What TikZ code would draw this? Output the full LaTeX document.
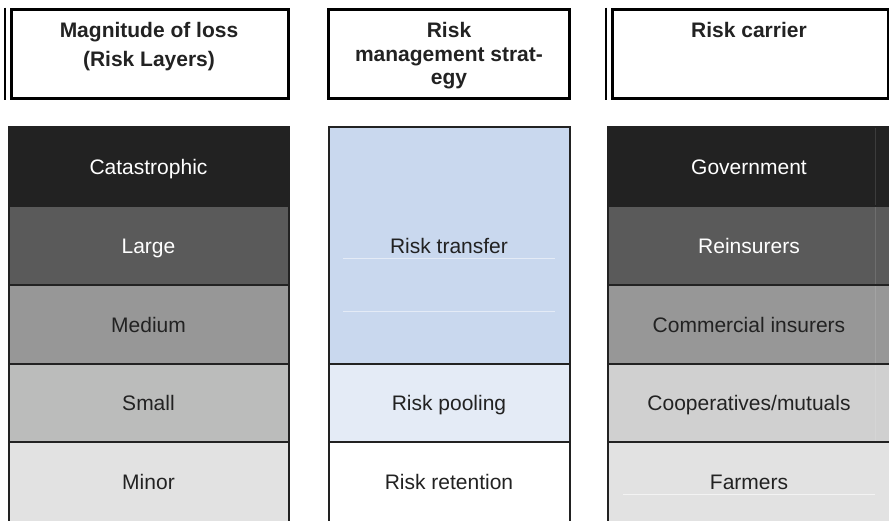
\documentclass[tikz,border=0pt]{standalone}
\usepackage{fontspec}
\setmainfont{Liberation Sans}
\definecolor{cCat}{HTML}{222222}
\definecolor{cLarge}{HTML}{5A5A5A}
\definecolor{cMed}{HTML}{979797}
\definecolor{cSmall}{HTML}{BBBCBB}
\definecolor{cSmallB}{HTML}{D0D0D0}
\definecolor{cMinor}{HTML}{E2E2E2}
\definecolor{cTrans}{HTML}{C9D8EE}
\definecolor{cPool}{HTML}{E4EBF6}
\definecolor{cTxt}{HTML}{222222}
\tikzset{
  cell/.style={inner sep=0pt, outer sep=0pt, text height=15pt, text depth=0pt,
               font=\fontsize{21}{25}\selectfont, text=cTxt},
  darkcell/.style={cell, text=white},
  hdrtxt/.style={inner sep=0pt, anchor=base, font=\bfseries\fontsize{21}{25}\selectfont, text=cTxt},
  hdrbox/.style={draw=black, line width=3pt, inner sep=0pt},
  border/.style={draw=cCat, line width=2pt},
  faint/.style={line width=0.6pt}
}
\begin{document}
\begin{tikzpicture}[x=1pt,y=-1pt]
\useasboundingbox (0,0) rectangle (889,520);
\begin{scope}
\clip (0,0) rectangle (889,520);
% ---------- headers ----------
\node[hdrbox, minimum width=277, minimum height=89] (h1) at (149.5,53.5) {};
\draw[line width=1.2pt] ([xshift=-4.5pt]h1.north west) -- ([xshift=-4.5pt]h1.south west);
\node[hdrtxt] (h1a) at (149,37) {Magnitude of loss};
\node[hdrtxt] (h1b) at (149,66) {(Risk Layers)};

\node[hdrbox, minimum width=241, minimum height=89] (h2) at (449,53.5) {};
\node[hdrtxt] (h2a) at (449,37) {Risk};
\node[hdrtxt] (h2b) at (449,61) {management strat-};
\node[hdrtxt] (h2c) at (449,84) {egy};

\node[hdrbox, minimum width=276, minimum height=89] (h3) at (750,53.5) {};
\draw[line width=1.2pt] ([xshift=-4.5pt]h3.north west) -- ([xshift=-4.5pt]h3.south west);
\node[hdrtxt] (h3a) at (749,37) {Risk carrier};

% ---------- column 1 ----------
\node[darkcell, fill=cCat,   minimum width=280, minimum height=79] (c1) at (148.5,166.5) {Catastrophic};
\node[darkcell, fill=cLarge, minimum width=280, minimum height=79] (c2) at (148.5,245.5) {Large};
\node[cell, fill=cMed,   minimum width=280, minimum height=79] (c3) at (148.5,324.5) {Medium};
\node[cell, fill=cSmall, minimum width=280, minimum height=78] (c4) at (148.5,403) {Small};
\node[cell, fill=cMinor, minimum width=280, minimum height=79] (c5) at (148.5,481.5) {Minor};
\draw[border] (c5.south west) -- (c1.north west) -- (c1.north east) -- (c5.south east);
\draw[border] (c1.south west) -- (c1.south east);
\draw[border] (c2.south west) -- (c2.south east);
\draw[border] (c3.south west) -- (c3.south east);
\draw[border] (c4.south west) -- (c4.south east);

% ---------- column 2 ----------
\node[cell, fill=cTrans, minimum width=241, minimum height=237] (s1) at (449,245.5) {Risk transfer};
\node[cell, fill=cPool,  minimum width=241, minimum height=78] (s2) at (449,403) {Risk pooling};
\node[cell, fill=white,  minimum width=241, minimum height=79] (s3) at (449,481.5) {Risk retention};
\coordinate (f1a) at (343,258); \coordinate (f1b) at (555,258);
\coordinate (f2a) at (343,311); \coordinate (f2b) at (555,311);
\draw[faint, draw=cPool] (f1a) -- (f1b);
\draw[faint, draw=cPool] (f2a) -- (f2b);
\draw[border] (s3.south west) -- (s1.north west) -- (s1.north east) -- (s3.south east);
\draw[border] (s1.south west) -- (s1.south east);
\draw[border] (s2.south west) -- (s2.south east);

% ---------- column 3 ----------
\node[cell, fill=cCat,    minimum width=281, minimum height=79] (r1) at (748.5,166.5) {};
\node[cell, fill=cLarge,  minimum width=281, minimum height=79] (r2) at (748.5,245.5) {};
\node[cell, fill=cMed,    minimum width=281, minimum height=79] (r3) at (748.5,324.5) {};
\node[cell, fill=cSmallB, minimum width=281, minimum height=78] (r4) at (748.5,403) {};
\node[cell, fill=cMinor,  minimum width=281, minimum height=79] (r5) at (748.5,481.5) {};
\node[darkcell] (t1) at (749,166.5) {Government};
\node[darkcell] (t2) at (749,245.5) {Reinsurers};
\node[cell] (t3) at (749,324.5) {Commercial insurers};
\node[cell] (t4) at (749,403) {Cooperatives/mutuals};
\node[cell] (t5) at (749,481.5) {Farmers};
\coordinate (v1) at (875,127); \coordinate (v2) at (875,442);
\draw[faint, draw=white, opacity=0.12] (v1) -- (v2);
\coordinate (g1) at (623,494); \coordinate (g2) at (875,494);
\draw[faint, draw=white, opacity=0.6] (g1) -- (g2);
\draw[border] (r5.south west) -- (r1.north west) -- (r1.north east);
\draw[border] (r1.south west) -- (r1.south east);
\draw[border] (r2.south west) -- (r2.south east);
\draw[border] (r3.south west) -- (r3.south east);
\draw[border] (r4.south west) -- (r4.south east);
\end{scope}
\end{tikzpicture}
\end{document}
